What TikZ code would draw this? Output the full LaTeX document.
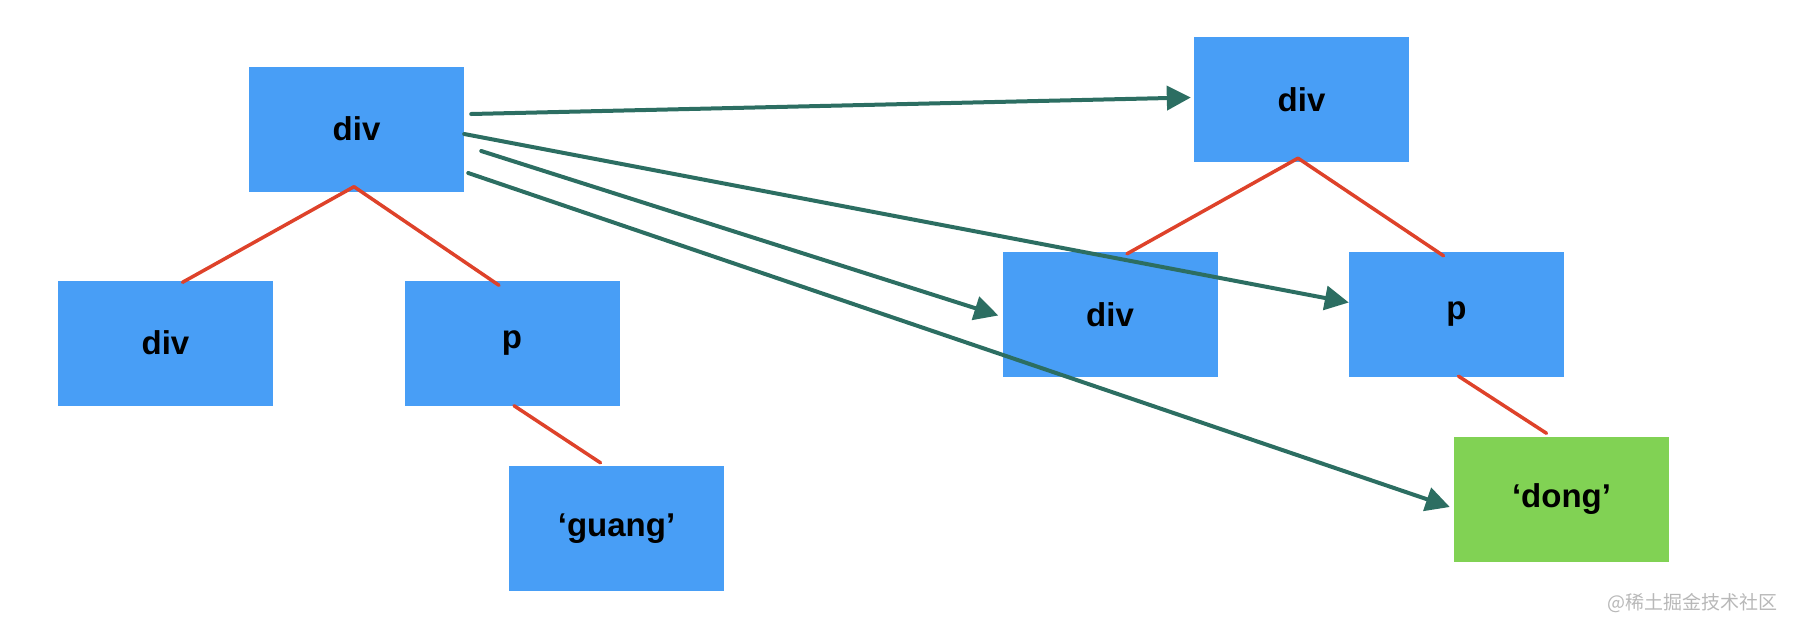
\documentclass[tikz,border=0pt]{standalone}
\usepackage{fontspec}
\setmainfont{Liberation Sans}
\newfontfamily\cjkfont{Noto Sans CJK SC}
\usetikzlibrary{arrows.meta}
\definecolor{boxblue}{RGB}{72,158,246}
\definecolor{boxgreen}{RGB}{129,210,84}
\definecolor{edgered}{RGB}{222,66,42}
\definecolor{arrowteal}{RGB}{44,110,98}
\begin{document}
\begin{tikzpicture}[x=1pt,y=-1pt,
  box/.style={fill=boxblue, minimum width=215pt, minimum height=125pt, inner sep=0pt,
    font=\fontsize{33}{33}\selectfont\bfseries},
  leafbox/.style={box, fill=boxgreen},
  treeedge/.style={draw=edgered, line width=3.5pt, line cap=round},
  mapping/.style={draw=arrowteal, line width=4pt, line cap=round,
    -{Triangle[length=24pt,width=24pt]}}
]
\useasboundingbox (0,0) rectangle (1796,632);
% left tree
\node[box] (ltop) at (356.5,129) {div};
\node[box] (ldiv) at (165.5,343) {div};
\node[box] (lp) at (512,343) {p};
\node[box] (lguang) at (616.5,528.5) {‘guang’};
% right tree
\node[box] (rtop) at (1301.5,99.5) {div};
\node[box] (rdiv) at (1110,314.5) {div};
\node[box] (rp) at (1456.5,314.5) {p};
\node[leafbox] (rdong) at (1561.5,499) {‘dong’};
% tree edges
\draw[treeedge] ([xshift=-2.5pt,yshift=5pt]ltop.south) -- ([xshift=17pt,yshift=-2pt]ldiv.north);
\draw[treeedge] ([xshift=-2.5pt,yshift=5pt]ltop.south) -- ([xshift=-13pt,yshift=-5pt]lp.north);
\draw[treeedge] ([xshift=2pt]lp.south) -- ([xshift=-16pt,yshift=3pt]lguang.north);
\draw[treeedge] ([xshift=-3.5pt,yshift=4pt]rtop.south) -- ([xshift=17pt,yshift=-2pt]rdiv.north);
\draw[treeedge] ([xshift=-3.5pt,yshift=4pt]rtop.south) -- ([xshift=-13pt,yshift=-4pt]rp.north);
\draw[treeedge] ([xshift=2pt,yshift=1pt]rp.south) -- ([xshift=-15pt,yshift=3pt]rdong.north);
% mapping arrows
\draw[mapping] ([xshift=7pt,yshift=15pt]ltop.east) -- ([xshift=-3pt,yshift=2pt]rtop.west);
\draw[mapping] ([xshift=0pt,yshift=-5pt]ltop.east) -- ([xshift=0pt,yshift=12pt]rp.west);
\draw[mapping] ([xshift=17pt,yshift=-22pt]ltop.east) -- ([xshift=-4pt,yshift=-1pt]rdiv.west);
\draw[mapping] ([xshift=4pt,yshift=-44pt]ltop.east) -- ([xshift=-4pt,yshift=-8pt]rdong.west);
% watermark
\node[anchor=east, text=black!28, font=\cjkfont\fontsize{19}{19}\selectfont, inner sep=0pt] (wm) at (1778,603) {@稀土掘金技术社区};
\end{tikzpicture}
\end{document}
